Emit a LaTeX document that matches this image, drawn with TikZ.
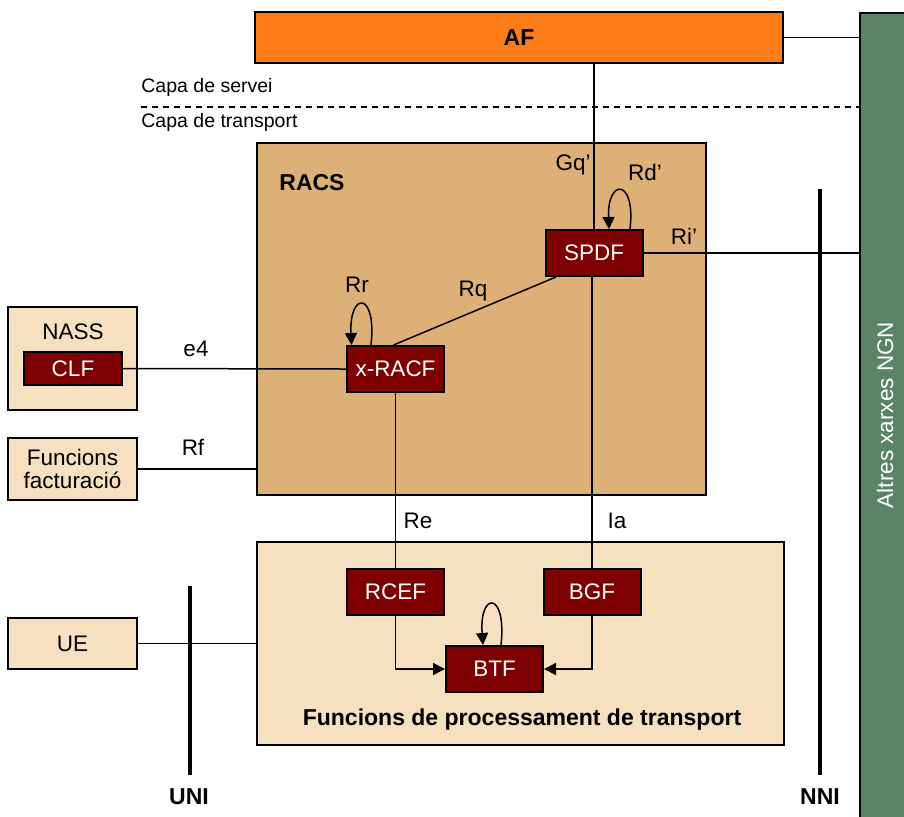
\documentclass[tikz,border=0pt]{standalone}
\usepackage{fontspec}
\setmainfont{Liberation Sans}
\usetikzlibrary{arrows.meta}
\definecolor{afor}{HTML}{FC7D17}
\definecolor{racsc}{HTML}{DDB077}
\definecolor{lightc}{HTML}{F5E1C0}
\definecolor{darkred}{HTML}{7F0000}
\definecolor{ngng}{HTML}{5B8466}
\begin{document}
\begin{tikzpicture}[x=0.5pt,y=-0.5pt,
  font=\fontsize{11.25pt}{13pt}\selectfont,
  boldf/.style={font=\fontsize{11.5pt}{13pt}\selectfont\bfseries},
  panel/.style={draw, line width=1pt, rectangle, inner sep=0pt},
  fbox/.style={panel, fill=darkred, text=white, minimum width=48.5pt, minimum height=23pt},
  lbl/.style={inner sep=0pt},
  conn/.style={line width=0.75pt},
  arr/.style={conn, -{Triangle[length=6pt,width=6pt]}},
  bar/.style={line width=1.8pt}]
\useasboundingbox (0,0) rectangle (904,816);
% background boxes
\node[panel, fill=ngng, minimum width=24.5pt, minimum height=403pt] (ngn) at (884,416) {};
\node[text=white, rotate=90] (ngnlbl) at (885,415) {Altres xarxes NGN};
\node[panel, fill=afor, minimum width=264pt, minimum height=25.5pt, boldf] (af) at (519,37.5) {AF};
\node[panel, fill=racsc, minimum width=224.5pt, minimum height=176pt] (racs) at (481.5,319) {};
\node[lbl, boldf] (racslbl) at (312,183) {RACS};
\node[panel, fill=lightc, minimum width=263.5pt, minimum height=101.5pt] (tr) at (520.5,643.5) {};
\node[lbl, boldf] (trlbl) at (522,720) {Funcions de processament de transport};
\node[panel, fill=lightc, minimum width=64.5pt, minimum height=51.5pt] (nass) at (72.5,358.5) {};
\node[lbl] (nasslbl) at (73,332) {NASS};
\node[panel, fill=lightc, minimum width=64.5pt, minimum height=31pt, align=center, font=\fontsize{11.25pt}{11.5pt}\selectfont] (fact) at (72.5,469) {Funcions\\facturació};
\node[panel, fill=lightc, minimum width=64.5pt, minimum height=25.5pt] (ue) at (72.5,643.5) {UE};
% function boxes
\node[fbox] (spdf) at (594,253) {SPDF};
\node[fbox] (xracf) at (395.5,369) {x-RACF};
\node[fbox] (rcef) at (395.5,592) {RCEF};
\node[fbox] (bgf) at (592,592) {BGF};
\node[fbox] (btf) at (494.5,669) {BTF};
\node[fbox, minimum width=49pt, minimum height=16.5pt] (clf) at (73,368.5) {CLF};
% layer labels
\node[lbl, anchor=west, font=\fontsize{9.75pt}{11pt}\selectfont] (capas) at (141,87) {Capa de servei};
\node[lbl, anchor=west, font=\fontsize{9.75pt}{11pt}\selectfont] (capat) at (141,122) {Capa de transport};
\coordinate (dashl) at (141,107);
\draw[conn, dash pattern=on 3pt off 2.5pt] (dashl) -- (dashl -| ngn.west);
% interfaces
\coordinate (unit) at (190,586);
\coordinate (unib) at (190,775);
\coordinate (nnit) at (820,189);
\coordinate (nnib) at (820,775);
\draw[bar] (unit) -- (unib);
\draw[bar] (nnit) -- (nnib);
\node[lbl, boldf] (unilbl) at (189,797) {UNI};
\node[lbl, boldf] (nnilbl) at (820,797) {NNI};
% connectors
\draw[conn] (af.east) -- (af.east -| ngn.west);
\draw[conn] (af.south -| spdf.north) -- (spdf.north);
\draw[conn] (spdf.east) -- (spdf.east -| ngn.west);
\draw[conn] ([xshift=-1pt]xracf.north) -- ([xshift=5.75pt]spdf.south west);
\draw[conn] (clf.east) -- (xracf.west);
\draw[conn] (fact.east) -- (fact.east -| racs.west);
\draw[conn] (ue.east) -- (ue.east -| tr.west);
\draw[conn] (xracf.south) -- (rcef.north);
\draw[conn] (spdf.south -| bgf.north) -- (bgf.north);
\draw[arr] (rcef.south) |- (btf.west);
\draw[arr] (bgf.south) |- (btf.east);
% loops
\draw[arr] ([xshift=42.75pt]spdf.north west) .. controls (636,178) and (607,178) .. ([xshift=32.25pt]spdf.north west);
\draw[arr] ([xshift=12.5pt]xracf.north west) .. controls (377,291) and (349,291) .. ([xshift=2.75pt]xracf.north west);
\draw[arr] ([xshift=28pt]btf.north west) .. controls (507,591) and (479,591) .. ([xshift=19pt]btf.north west);
% labels
\node[lbl] (gq) at (573,165) {Gq’};
\node[lbl] (rd) at (645,172) {Rd’};
\node[lbl] (ri) at (684,236) {Ri’};
\node[lbl] (rr) at (357,285) {Rr};
\node[lbl] (rq) at (473,291) {Rq};
\node[lbl] (e4) at (196,349) {e4};
\node[lbl] (rf) at (193,447) {Rf};
\node[lbl] (re) at (418,521) {Re};
\node[lbl] (ia) at (617,521) {Ia};
\end{tikzpicture}
\end{document}
